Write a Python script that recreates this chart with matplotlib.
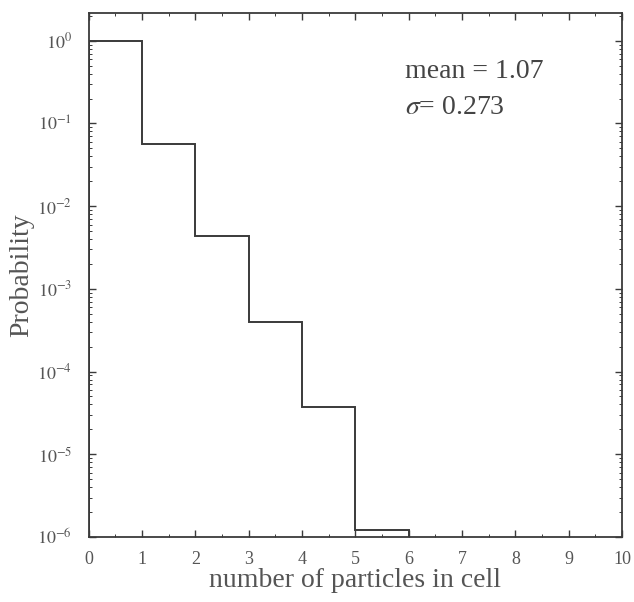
import matplotlib
matplotlib.use('Agg')
import matplotlib.pyplot as plt
from matplotlib.ticker import LogLocator, MultipleLocator, NullFormatter
import numpy as np

plt.rcParams['font.family'] = ['Liberation Serif', 'DejaVu Serif']
plt.rcParams['mathtext.fontset'] = 'stix'

# histogram of particles per cell
bin_edges = [0, 1, 2, 3, 4, 5, 6]
probability = [0.98, 0.057, 0.0043, 0.00040, 0.000037, 0.0000012]
y_ticks = [1e-6, 1e-5, 1e-4, 1e-3, 1e-2, 1e-1, 1e0]
y_tick_labels = [r'$10^{-6}$', r'$10^{-5}$', r'$10^{-4}$', r'$10^{-3}$',
                 r'$10^{-2}$', r'$10^{-1}$', r'$10^{0}$']
mean_text = 'mean = 1.07'
sigma_text = r'$\sigma$= 0.273'

line_col = '#3a3a3a'
tick_col = '#555555'

fig = plt.figure(figsize=(6.34, 6.02), dpi=100)
ax = fig.add_axes([0.140, 0.108, 0.841, 0.870])

ax.stairs(probability, bin_edges, baseline=1e-6, color=line_col, linewidth=1.4)

ax.set_yscale('log')
ax.set_xlim(0, 10)
ax.set_ylim(1e-6, 2.15)
ax.xaxis.set_major_locator(MultipleLocator(1))
ax.xaxis.set_minor_locator(MultipleLocator(0.5))
ax.set_yticks(y_ticks, y_tick_labels)
ax.yaxis.set_minor_locator(LogLocator(base=10, subs=np.arange(2, 10), numticks=20))
ax.yaxis.set_minor_formatter(NullFormatter())

ax.tick_params(which='both', direction='in', top=True, right=True, colors=line_col,
               labelcolor=tick_col, labelsize=13)
ax.tick_params(which='major', length=5, width=1)
ax.tick_params(axis='x', which='major', pad=10)
ax.tick_params(axis='y', which='major', pad=12)
ax.tick_params(which='minor', length=2.5, width=0.7)
for s in ax.spines.values():
    s.set_color(line_col)
    s.set_linewidth(1.3)

ax.set_xlabel('number of particles in cell', fontsize=20, color=tick_col, labelpad=0)
ax.set_ylabel('Probability', fontsize=20, color=tick_col, labelpad=2)

ax.text(0.593, 0.877, mean_text, transform=ax.transAxes, fontsize=20, color='#444444')
ax.text(0.593, 0.807, sigma_text, transform=ax.transAxes, fontsize=20, color='#444444')

fig.savefig('out.png', dpi=100)
